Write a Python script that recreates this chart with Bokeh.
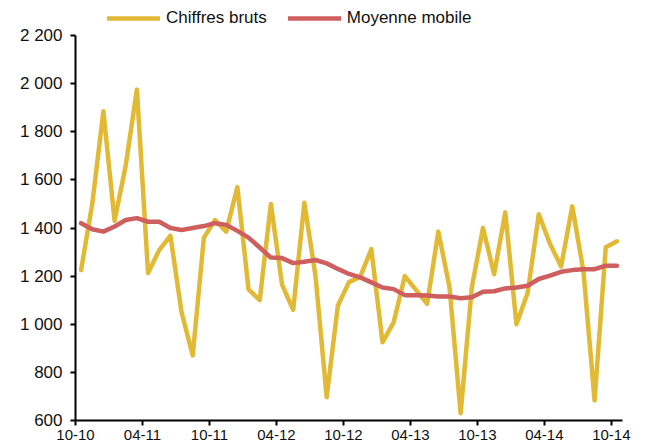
from bokeh.plotting import figure
from bokeh.models import Range1d, FixedTicker, Legend, LegendItem, ColumnDataSource
from bokeh.embed import file_html
from bokeh.resources import INLINE

# ---- data ----
tick_labels = ["10-10", "04-11", "10-11", "04-12", "10-12", "04-13", "10-13", "04-14", "10-14"]
chiffres_bruts = [1225, 1500, 1885, 1430, 1660, 1975, 1213, 1308, 1368, 1050, 870, 1360,
                  1433, 1385, 1570, 1145, 1100, 1500, 1165, 1060, 1505, 1200, 697, 1077,
                  1175, 1197, 1312, 925, 1008, 1200, 1143, 1085, 1385, 1155, 630, 1152,
                  1400, 1208, 1465, 1000, 1130, 1457, 1335, 1240, 1490, 1220, 683, 1320, 1345]
moyenne_mobile = [1420, 1395, 1385, 1406, 1433, 1441, 1426, 1426, 1400, 1392, 1400, 1408,
                  1420, 1413, 1388, 1360, 1319, 1277, 1275, 1254, 1260, 1267, 1253, 1230,
                  1209, 1195, 1174, 1153, 1146, 1121, 1121, 1119, 1115, 1115, 1108, 1112,
                  1135, 1137, 1149, 1153, 1160, 1188, 1202, 1218, 1225, 1229, 1229, 1243, 1243]
y_ticks = [600, 800, 1000, 1200, 1400, 1600, 1800, 2000, 2200]
y_min, y_max = 600, 2200

n = len(chiffres_bruts)
x = [i + 0.5 for i in range(n)]
src = ColumnDataSource(dict(x=x, brut=chiffres_bruts, mm=moyenne_mobile))

FONT = "Liberation Sans"
YEL = "#E2B935"
RED = "#CF5E5E"

# frame extends above the 2 200 line to host the legend; the axis is bounded to 600-2200
top_px, frame_px = 33, 385
y_top = y_max + (y_max - y_min) * top_px / frame_px

p = figure(width=649, height=446, output_backend="svg", toolbar_location=None,
           x_range=Range1d(0, n), y_range=Range1d(y_min, y_top),
           min_border_left=75, min_border_right=27, min_border_top=2, min_border_bottom=26)
p.outline_line_color = None
p.xgrid.visible = False
p.ygrid.visible = False
p.background_fill_color = "white"
p.border_fill_color = "white"

r1 = p.line("x", "brut", source=src, line_color=YEL, line_width=4.5,
            line_join="round", line_cap="round")
r2 = p.line("x", "mm", source=src, line_color=RED, line_width=4.5,
            line_join="round", line_cap="round")

# axes
tick_pos = [6 * i for i in range(len(tick_labels))]
p.xaxis.ticker = FixedTicker(ticks=tick_pos)
p.xaxis.major_label_overrides = {t: lab for t, lab in zip(tick_pos, tick_labels)}
p.yaxis.ticker = FixedTicker(ticks=y_ticks)
p.yaxis.bounds = (y_min, y_max)
p.yaxis.major_label_overrides = {v: f"{v:,}".replace(",", " ") for v in y_ticks}

for ax in (p.xaxis[0], p.yaxis[0]):
    ax.axis_line_color = "black"
    ax.axis_line_width = 2
    ax.major_tick_line_color = "black"
    ax.major_tick_line_width = 2
    ax.major_tick_out = 5
    ax.major_tick_in = 0
    ax.minor_tick_line_color = None
    ax.major_label_text_font = FONT
    ax.major_label_text_color = "#111111"
p.xaxis.major_label_text_font_size = "15px"
p.xaxis.major_label_standoff = 4
p.yaxis.major_label_text_font_size = "17px"
p.yaxis.major_label_standoff = 8

legend = Legend(items=[LegendItem(label="Chiffres bruts", renderers=[r1]),
                       LegendItem(label="Moyenne mobile", renderers=[r2])],
                orientation="horizontal", location=(32, 392),
                glyph_width=53, glyph_height=20, label_height=20,
                label_standoff=6, spacing=21, padding=0, margin=0,
                border_line_alpha=0, background_fill_alpha=0,
                label_text_font=FONT, label_text_font_size="17px",
                label_text_color="#111111")
p.add_layout(legend)

open("out.html", "w").write(file_html(p, INLINE))
